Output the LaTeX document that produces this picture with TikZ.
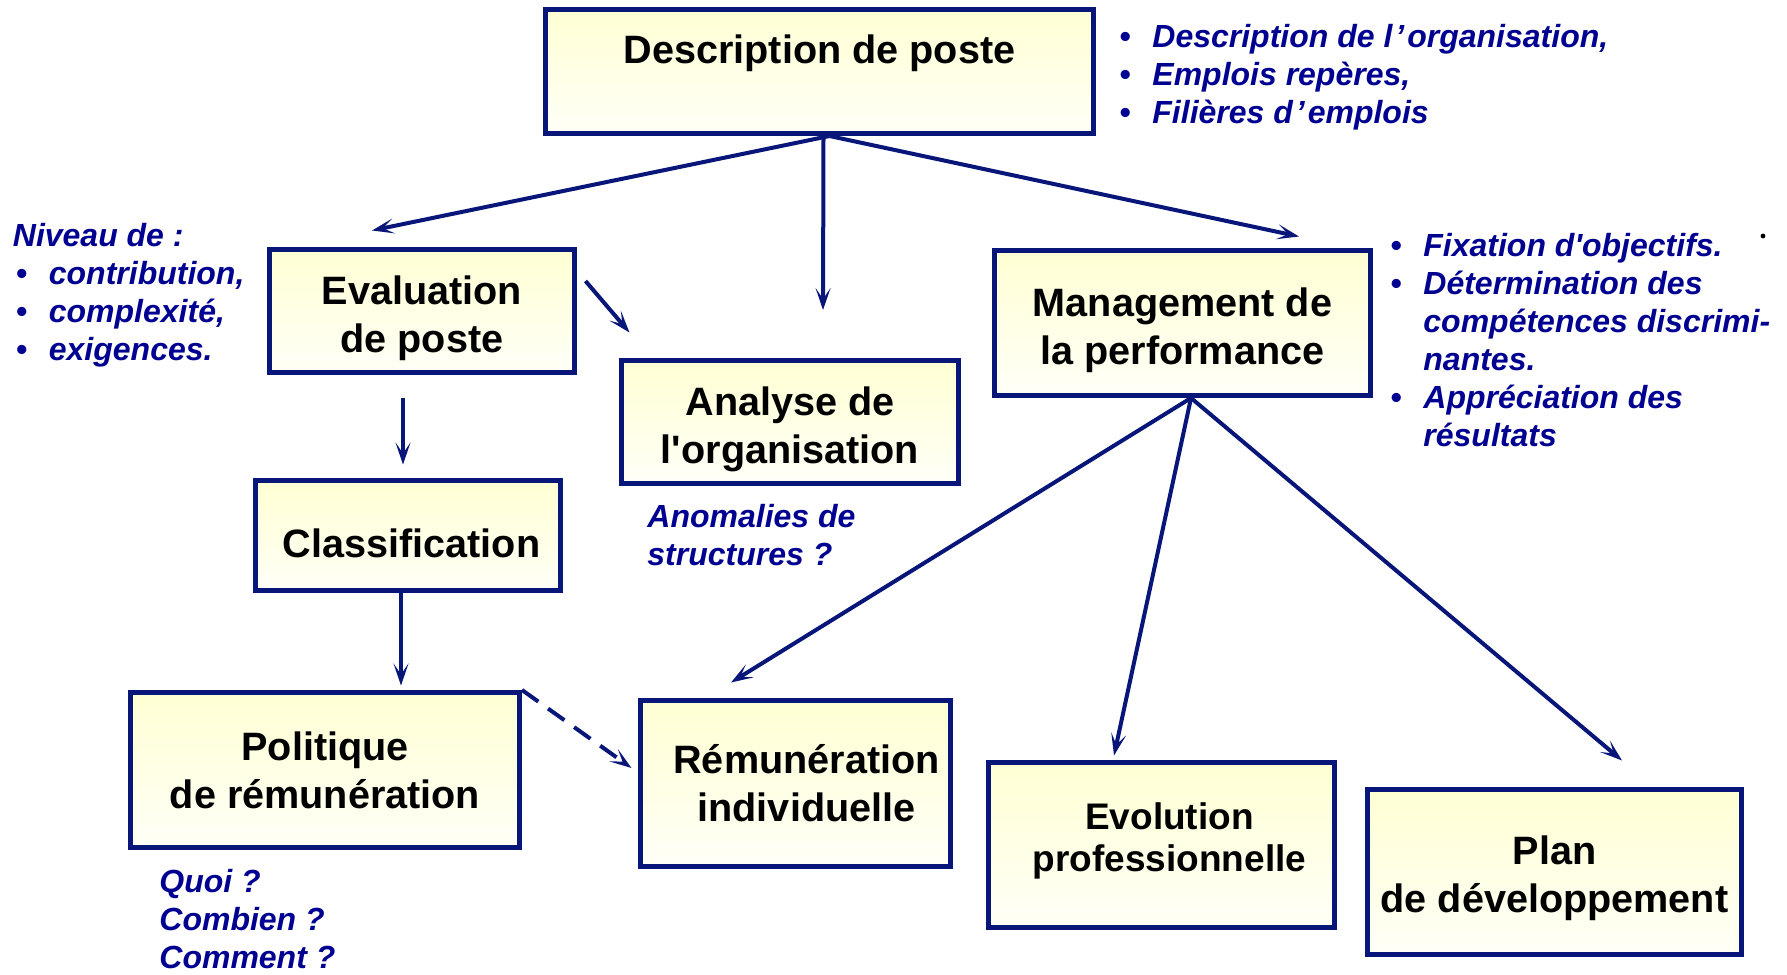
\documentclass[tikz,border=0pt]{standalone}
\usepackage{fontspec}
\setmainfont{Liberation Sans}
\usetikzlibrary{arrows.meta,calc}
\definecolor{navy}{RGB}{8,22,122}
\definecolor{noteblue}{RGB}{0,0,145}
\tikzset{
  box/.style={draw=navy,line width=2.5pt,top color=yellow!17,bottom color=yellow!3,inner sep=0pt},
  boxtxt/.style={inner sep=0pt,align=center,font=\fontsize{19.8}{24}\selectfont\bfseries},
  link/.style={-{Stealth[length=11pt,width=7.5pt,inset=5.5pt]},navy,line width=2pt},
  note/.style={text=noteblue,inner sep=0pt,align=left,anchor=north west,font=\fontsize{16}{19}\selectfont\bfseries\itshape},
}
\newcommand{\bul}{\makebox[16.5pt][l]{\textbullet}}
\newcommand{\hang}{\hspace*{16.5pt}}

\begin{document}
\begin{tikzpicture}[x=0.5pt,y=-0.5pt]
  \useasboundingbox (0,0) rectangle (1787,974);
  % boxes
  \node[box,minimum width=274pt,minimum height=62pt] (desc) at (819.5,71.5) {};
  \node[box,minimum width=152.5pt,minimum height=61.5pt] (eval) at (422,311) {};
  \node[box,minimum width=168.5pt,minimum height=61.5pt] (analyse) at (790,422) {};
  \node[box,minimum width=188pt,minimum height=72.5pt] (mgmt) at (1182.5,323) {};
  \node[box,minimum width=152.5pt,minimum height=55pt] (class) at (408,535.5) {};
  \node[box,minimum width=194.5pt,minimum height=77.5pt] (polit) at (325,770) {};
  \node[box,minimum width=155pt,minimum height=83pt] (remun) at (795.5,783.5) {};
  \node[box,minimum width=173pt,minimum height=82.5pt] (evol) at (1161.5,845) {};
  \node[box,minimum width=187pt,minimum height=82.5pt] (plan) at (1554.5,872) {};

  % box texts
  \node[boxtxt] (desctxt) at ([yshift=9pt]desc.center) {Description de poste};
  \node[boxtxt] (evaltxt) at ([yshift=-3.5pt]eval.center) {Evaluation\\de poste};
  \node[boxtxt] (analysetxt) at ([yshift=-3.5pt]analyse.center) {Analyse de\\l\textquotesingle organisation};
  \node[boxtxt] (mgmttxt) at ([yshift=-3.5pt]mgmt.center) {Management de\\la performance};
  \node[boxtxt] (classtxt) at ([xshift=1.75pt,yshift=-3.75pt]class.center) {Classification};
  \node[boxtxt] (polittxt) at (polit.center) {Politique\\de rémunération};
  \node[boxtxt] (remuntxt) at ([xshift=5.5pt]remun.center) {Rémunération\\individuelle};
  \node[boxtxt,font=\fontsize{18.5}{21}\selectfont\bfseries] (evoltxt) at ([xshift=4pt,yshift=2pt]evol.center) {Evolution\\professionnelle};
  \node[boxtxt] (plantxt) at ([yshift=-3pt]plan.center) {Plan\\de développement};

  % notes
  \node[note] (toplist) at (1119,24) {\bul Description de l\kern1.5pt’\kern1.5pt organisation,\\\bul Emplois repères,\\\bul Filières d\kern1.5pt’\kern1.5pt emplois};
  \node[note] (niveau) at (12.5,223) {Niveau de :\\\hspace*{1.5pt}\bul contribution,\\\hspace*{1.5pt}\bul complexité,\\\hspace*{1.5pt}\bul exigences.};
  \node[note] (perf) at (1390,233) {\bul Fixation d\textquotesingle objectifs.\\\bul Détermination des\\\hang compétences discrimi-\\\hang nantes.\\\bul Appréciation des\\\hang résultats};
  \node[note] (anomalies) at (647,504) {Anomalies de\\structures ?};
  \node[note] (questions) at (159,869) {Quoi ?\\Combien ?\\Comment ?};
  \fill (1763,236) circle (1.2pt);

  % links
  \coordinate (apex) at ([xshift=5pt]desc.south);
  \draw[link] (apex) -- ([xshift=-25pt,yshift=8.25pt]eval.north);
  \draw[link] ([xshift=2pt]desc.south) -- ([xshift=16.5pt,yshift=24pt]analyse.north);
  \draw[link] (apex) -- ([xshift=58.25pt,yshift=5.75pt]mgmt.north);
  \draw[link] ([xshift=4.25pt,yshift=15pt]eval.east) -- ([xshift=5.25pt,yshift=12.75pt]analyse.north west);
  \draw[link] ([xshift=-9.5pt,yshift=-11.25pt]eval.south) -- ([xshift=-2.5pt,yshift=6.75pt]class.north);
  \draw[link] ([xshift=-3.5pt]class.south) -- ([xshift=38pt,yshift=2.25pt]polit.north);
  \draw[link,dash pattern=on 10pt off 6pt] (polit.north east) -- ([xshift=-3.25pt,yshift=7.75pt]remun.west);
  \coordinate (apex2) at ([xshift=4.25pt]mgmt.south);
  \draw[link] (apex2) -- ([xshift=-32.25pt,yshift=7.75pt]remun.north);
  \draw[link] (apex2) -- ([xshift=-23.75pt,yshift=2.25pt]evol.north);
  \draw[link] (apex2) -- ([xshift=33.75pt,yshift=13.25pt]plan.north);
\end{tikzpicture}
\end{document}
